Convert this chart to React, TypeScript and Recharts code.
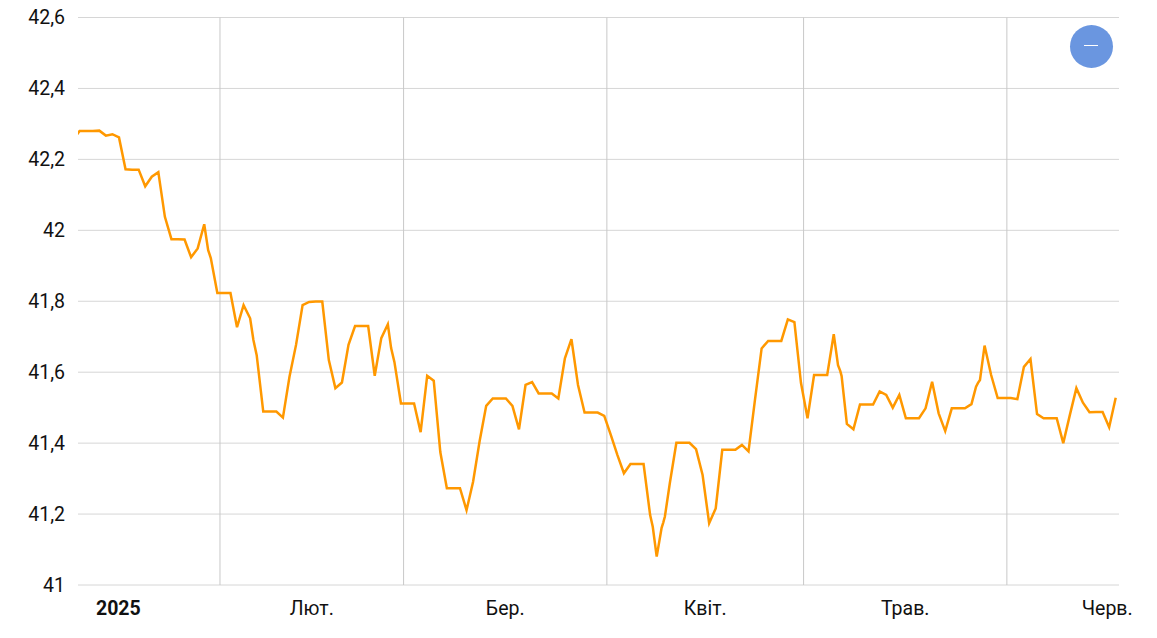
import { LineChart, Line, XAxis, YAxis, CartesianGrid, ReferenceLine } from "recharts";

// first value is the day before the visible window, it gets clipped at the left edge
const rates: number[] = [
  42.255, 42.28, 42.28, 42.28, 42.281, 42.267, 42.271, 42.262, 42.172, 42.171,
  42.171, 42.124, 42.151, 42.164, 42.038, 41.975, 41.975, 41.974, 41.924, 41.949,
  42.017, 41.922, 41.823, 41.823, 41.823, 41.727, 41.789, 41.752, 41.648, 41.489,
  41.489, 41.489, 41.472, 41.587, 41.677, 41.789, 41.798, 41.799, 41.799, 41.634,
  41.555, 41.571, 41.677, 41.73, 41.73, 41.73, 41.59, 41.696, 41.735, 41.629,
  41.512, 41.512, 41.512, 41.431, 41.59, 41.576, 41.375, 41.273, 41.273, 41.273,
  41.211, 41.291, 41.406, 41.505, 41.526, 41.526, 41.526, 41.505, 41.439, 41.564,
  41.572, 41.54, 41.54, 41.54, 41.526, 41.639, 41.693, 41.564, 41.486, 41.486,
  41.486, 41.477, 41.423, 41.367, 41.315, 41.341, 41.341, 41.341, 41.197, 41.08,
  41.176, 41.287, 41.401, 41.401, 41.401, 41.383, 41.31, 41.174, 41.216, 41.381,
  41.381, 41.381, 41.395, 41.377, 41.524, 41.667, 41.688, 41.688, 41.688, 41.749,
  41.741, 41.57, 41.47, 41.592, 41.592, 41.592, 41.707, 41.603, 41.454, 41.439,
  41.509, 41.509, 41.509, 41.546, 41.536, 41.5, 41.536, 41.47, 41.47, 41.47,
  41.498, 41.573, 41.484, 41.434, 41.498, 41.498, 41.498, 41.51, 41.57, 41.675,
  41.592, 41.527, 41.527, 41.527, 41.524, 41.615, 41.637, 41.482, 41.47, 41.47,
  41.47, 41.4, 41.479, 41.555, 41.514, 41.487, 41.488, 41.488, 41.445, 41.528,
];

// readings between two days, where the line visibly bends on steep stretches
const extraDays = [19.6, 26.5, 47.5, 87.4, 88.75, 89.25, 115.65, 116.2, 136.7, 137.3];
const extraRates = [41.944, 41.691, 41.668, 41.164, 41.161, 41.193, 41.62, 41.589, 41.559, 41.578];

const yTicks = [41, 41.2, 41.4, 41.6, 41.8, 42, 42.2, 42.4, 42.6];
const monthStarts = [21.4, 49.4, 80.4, 110.4, 141.4];
const labelDays = [5.9, 35.4, 64.9, 95.4, 125.9, 156.7];
const labelNames = ["2025", "Лют.", "Бер.", "Квіт.", "Трав.", "Черв."];

const data = [
  ...rates.map((rate, i) => ({ day: i - 1, rate })),
  ...extraDays.map((day, i) => ({ day, rate: extraRates[i] })),
].sort((a, b) => a.day - b.day);

const FONT = "Roboto, sans-serif";

const MonthTick = (props: any) => {
  const { x, y, payload } = props;
  const i = labelDays.indexOf(payload.value);
  return (
    <text
      x={x}
      y={y}
      dy={5}
      textAnchor="middle"
      fontFamily={FONT}
      fontSize={19.5}
      fontWeight={i === 0 ? 700 : 400}
      fill="#111"
    >
      {labelNames[i]}
    </text>
  );
};

const App = () => {
  return (
    <div style={{ position: "absolute", left: 0, top: 0, width: 1157, height: 638, background: "#fff" }}>
      <LineChart width={1157} height={638} data={data} margin={{ top: 17.5, right: 38, bottom: 0, left: 0 }}>
        <CartesianGrid vertical={false} stroke="#d6d6d6" strokeWidth={1} />
        <XAxis
          dataKey="day"
          type="number"
          domain={[-0.25, 158.5]}
          allowDataOverflow
          ticks={labelDays}
          interval={0}
          tick={<MonthTick />}
          tickLine={false}
          axisLine={false}
          tickSize={0}
          tickMargin={25}
          height={53}
        />
        <YAxis
          type="number"
          domain={[41, 42.6]}
          ticks={yTicks}
          interval={0}
          width={78}
          tickLine={false}
          axisLine={false}
          tickSize={0}
          tickMargin={13}
          tickFormatter={(v: number) => String(v).replace(".", ",")}
          tick={{ fontFamily: FONT, fontSize: 19.5, fill: "#111" }}
        />
        {monthStarts.map((d) => (
          <ReferenceLine key={d} x={d} stroke="#c8c8c8" strokeWidth={1} />
        ))}
        <Line
          dataKey="rate"
          type="linear"
          stroke="#ff9800"
          strokeWidth={2.5}
          dot={false}
          activeDot={false}
          isAnimationActive={false}
        />
      </LineChart>
      <div
        style={{
          position: "absolute",
          left: 1070,
          top: 25,
          width: 43,
          height: 43,
          borderRadius: "50%",
          background: "#6a96e0",
        }}
      >
        <div style={{ position: "absolute", left: 14, top: 20, width: 14, height: 1, background: "#fff" }} />
      </div>
    </div>
  );
};

export default App;
